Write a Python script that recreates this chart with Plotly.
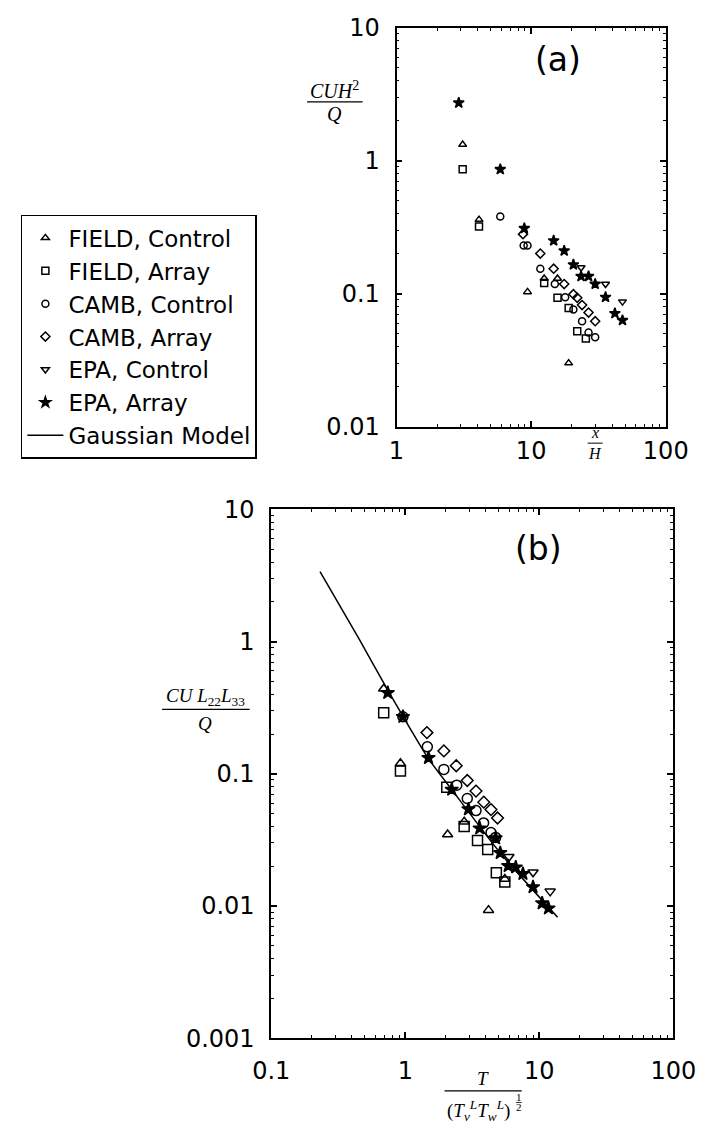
import plotly.graph_objects as go

# ---------------- panel (a) data : C U H^2 / Q  vs  x/H ----------------
a_field_ctrl_x = [3.1, 4.1, 9.4, 12.5, 15.7, 19.0]
a_field_ctrl_y = [1.32, 0.36, 0.103, 0.130, 0.130, 0.030]
a_field_arr_x = [3.1, 4.1, 12.5, 15.7, 19.0, 22.0, 25.5]
a_field_arr_y = [0.86, 0.32, 0.120, 0.093, 0.078, 0.052, 0.046]
a_camb_ctrl_x = [5.9, 8.8, 9.4, 11.7, 15.0, 17.9, 20.6, 23.9, 26.7, 29.9]
a_camb_ctrl_y = [0.38, 0.23, 0.23, 0.154, 0.118, 0.094, 0.076, 0.062, 0.051, 0.047]
a_camb_arr_x = [8.7, 11.7, 14.7, 17.6, 20.6, 22.0, 23.9, 26.7, 29.9]
a_camb_arr_y = [0.28, 0.20, 0.154, 0.118, 0.099, 0.093, 0.082, 0.072, 0.062]
a_epa_ctrl_x = [23.5, 35.7, 47.7]
a_epa_ctrl_y = [0.157, 0.118, 0.087]
a_epa_arr_x = [2.9, 5.9, 8.9, 14.7, 17.6, 20.6, 23.5, 26.7, 29.9, 35.7, 41.9, 47.7]
a_epa_arr_y = [2.72, 0.86, 0.31, 0.25, 0.21, 0.165, 0.135, 0.135, 0.118, 0.094, 0.071, 0.063]

# ---------------- panel (b) data : C U L22 L33 / Q  vs  T/(TvTw)^1/2 ----------------
b_field_ctrl_x = [0.69, 0.92, 2.07, 2.75, 4.18, 5.53]
b_field_ctrl_y = [0.44, 0.12, 0.0347, 0.0433, 0.0093, 0.016]
b_field_arr_x = [0.69, 0.92, 2.04, 2.75, 3.46, 4.12, 4.78, 5.53]
b_field_arr_y = [0.29, 0.105, 0.079, 0.040, 0.0313, 0.0267, 0.0178, 0.0152]
b_camb_ctrl_x = [0.96, 1.46, 1.94, 2.42, 2.90, 3.37, 3.84, 4.36, 4.72]
b_camb_ctrl_y = [0.27, 0.16, 0.108, 0.082, 0.065, 0.0527, 0.0425, 0.0359, 0.033]
b_camb_arr_x = [1.45, 1.94, 2.40, 2.90, 3.37, 3.85, 4.36, 4.88]
b_camb_arr_y = [0.205, 0.149, 0.115, 0.089, 0.074, 0.061, 0.0536, 0.0463]
b_epa_ctrl_x = [5.93, 8.98, 12.05]
b_epa_ctrl_y = [0.0236, 0.018, 0.0129]
b_epa_arr_x = [0.74, 0.96, 1.49, 2.22, 2.96, 3.59, 4.72, 5.11, 5.86, 6.67, 7.55, 8.98, 10.5, 11.7]
b_epa_arr_y = [0.41, 0.27, 0.132, 0.076, 0.054, 0.0387, 0.0326, 0.0252, 0.0201, 0.0196, 0.0175, 0.0139, 0.0105, 0.0096]
gauss_x = [0.231, 0.454, 0.74, 1.49, 2.22, 5.11, 13.7]
gauss_y = [3.39, 1.04, 0.43, 0.13, 0.076, 0.0252, 0.0082]

series_names = ["FIELD, Control", "FIELD, Array", "CAMB, Control",
                "CAMB, Array", "EPA, Control", "EPA, Array"]
symbols = ["triangle-up-open", "square-open", "circle-open",
           "diamond-open", "triangle-down-open", "star"]

a_sets = [(a_field_ctrl_x, a_field_ctrl_y), (a_field_arr_x, a_field_arr_y),
          (a_camb_ctrl_x, a_camb_ctrl_y), (a_camb_arr_x, a_camb_arr_y),
          (a_epa_ctrl_x, a_epa_ctrl_y), (a_epa_arr_x, a_epa_arr_y)]
b_sets = [(b_field_ctrl_x, b_field_ctrl_y), (b_field_arr_x, b_field_arr_y),
          (b_camb_ctrl_x, b_camb_ctrl_y), (b_camb_arr_x, b_camb_arr_y),
          (b_epa_ctrl_x, b_epa_ctrl_y), (b_epa_arr_x, b_epa_arr_y)]
a_sizes = [7, 7, 7, 7, 7, 8]
b_sizes = [9, 10, 10, 9, 9, 10]

W, H = 717, 1136
def px(x):
    return x / W
def py(y):
    return 1 - y / H

fig = go.Figure()

# panel (a) traces carry the legend entries (small symbols, as in the reference legend)
for i, name in enumerate(series_names):
    xs, ys = a_sets[i]
    fig.add_trace(go.Scatter(
        x=xs, y=ys, mode="markers", name=name, showlegend=True, legendrank=i + 1,
        xaxis="x", yaxis="y",
        marker=dict(symbol=symbols[i], size=a_sizes[i], color="black",
                    line=dict(color="black", width=1.5))))

for i, name in enumerate(series_names):
    xs, ys = b_sets[i]
    fig.add_trace(go.Scatter(
        x=xs, y=ys, mode="markers", name=name, showlegend=False,
        xaxis="x2", yaxis="y2",
        marker=dict(symbol=symbols[i], size=b_sizes[i], color="black",
                    line=dict(color="black", width=1.5))))

fig.add_trace(go.Scatter(
    x=gauss_x, y=gauss_y, mode="lines", name="Gaussian Model", showlegend=True, legendrank=7,
    xaxis="x2", yaxis="y2", line=dict(color="black", width=1.5, shape="spline", smoothing=0.6)))

tick_font = dict(family="DejaVu Sans", size=24, color="black")

def log_minor(lo, hi):
    vals = []
    for e in range(lo, hi):
        for m in range(2, 10):
            vals.append(m * 10 ** e)
    return vals

def axis(rng_lo, rng_hi, domain, anchor):
    return dict(
        type="log", range=[rng_lo, rng_hi], domain=domain, anchor=anchor,
        tickmode="array",
        tickvals=[10 ** e for e in range(rng_lo, rng_hi + 1)],
        ticktext=[("%g" % (10 ** e)) for e in range(rng_lo, rng_hi + 1)],
        ticks="inside", ticklen=6, tickwidth=1.5, tickcolor="black",
        minor=dict(ticks="inside", ticklen=3, tickwidth=1, tickcolor="black",
                   tickmode="array", tickvals=log_minor(rng_lo, rng_hi)),
        showline=True, linecolor="black", linewidth=1.8, mirror="ticks",
        showgrid=False, zeroline=False, tickfont=tick_font)

fig.update_layout(
    width=W, height=H, margin=dict(l=0, r=0, t=0, b=0),
    paper_bgcolor="white", plot_bgcolor="white",
    xaxis=dict(axis(0, 2, [px(401), px(687)], "y"), ticklabelstandoff=2),
    yaxis=dict(axis(-2, 1, [py(423), py(14)], "x"), ticklabelstandoff=10),
    xaxis2=dict(axis(-1, 2, [px(268), px(695)], "y2"), ticklabelstandoff=10),
    yaxis2=dict(axis(-3, 1, [py(1050), py(508)], "x2"), ticklabelstandoff=10),
    legend=dict(x=px(2), y=py(206), xanchor="left", yanchor="top",
                bordercolor="black", borderwidth=1.5, bgcolor="white",
                font=dict(family="DejaVu Sans", size=23, color="black"),
                tracegroupgap=0, itemwidth=36, traceorder="normal"),
    showlegend=True,
)

serif = "Liberation Serif"

def note(x, y, text, size=19, family=serif):
    return dict(x=px(x), y=py(y), text=text, showarrow=False, xref="paper", yref="paper",
                xanchor="center", yanchor="middle",
                font=dict(family=family, size=size, color="black"))

ann = [
    note(573, 47, "(a)", 33, "DejaVu Sans"),
    note(552, 548, "(b)", 33, "DejaVu Sans"),
    # y title (a)
    note(335, 78, "<i>CUH</i><sup>2</sup>", 20),
    note(335, 103, "<i>Q</i>", 20),
    # x title (a)
    note(612, 429, "<i>x</i>", 16),
    note(612, 451, "<i>H</i>", 16),
    # y title (b)
    note(198, 700, "<i>CU L</i><sub>22</sub><i>L</i><sub>33</sub>", 19),
    note(198, 727, "<i>Q</i>", 19),
    # x title (b)
    note(493, 1091, "<i>T</i>", 19),
    note(488, 1124, "(<i>T</i><sub><i>v</i></sub><sup><i>L</i></sup><i>T</i><sub><i>w</i></sub><sup><i>L</i></sup>)", 19),
    note(531, 1110, "1", 11),
    note(531, 1121, "2", 11),
]

shapes = [
    dict(type="line", xref="paper", yref="paper", x0=px(306), x1=px(365), y0=py(90), y1=py(90),
         line=dict(color="black", width=1.2)),
    dict(type="line", xref="paper", yref="paper", x0=px(604), x1=px(620), y0=py(440), y1=py(440),
         line=dict(color="black", width=1)),
    dict(type="line", xref="paper", yref="paper", x0=px(152), x1=px(245), y0=py(713), y1=py(713),
         line=dict(color="black", width=1.2)),
    dict(type="line", xref="paper", yref="paper", x0=px(452), x1=px(534), y0=py(1104), y1=py(1104),
         line=dict(color="black", width=1.2)),
    dict(type="line", xref="paper", yref="paper", x0=px(528), x1=px(534), y0=py(1116), y1=py(1116),
         line=dict(color="black", width=0.8)),
]
fig.update_layout(annotations=ann, shapes=shapes)

fig.write_html("out.html")
